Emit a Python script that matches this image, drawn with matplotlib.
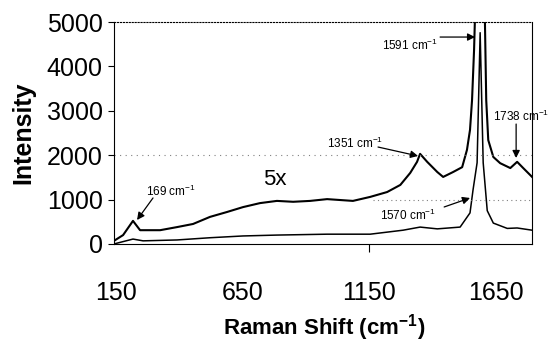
import matplotlib
matplotlib.use("Agg")
import matplotlib.pyplot as plt

plt.rcParams['font.family'] = 'Liberation Sans'
plt.rcParams['mathtext.fontset'] = 'custom'
plt.rcParams['mathtext.rm'] = 'Liberation Sans'

# upper trace (5x)
x_5x = [142, 178, 217, 245, 324, 391, 454, 521, 588, 651, 718, 785, 849, 916, 983,
        1034, 1085, 1153, 1220, 1272, 1311, 1338, 1350, 1378, 1418, 1441, 1480,
        1516, 1535, 1547, 1555, 1563, 1571, 1587, 1603, 1611, 1619, 1639, 1666,
        1706, 1733, 1757, 1792]
y_5x = [70, 200, 520, 310, 310, 380, 450, 610, 720, 830, 920, 970, 950, 970, 1010,
        990, 970, 1060, 1170, 1330, 1600, 1850, 2030, 1850, 1620, 1510, 1620,
        1730, 2120, 2570, 3240, 4370, 6000, 12000, 6000, 3240, 2340, 1960, 1820,
        1710, 1850, 1710, 1510]

# lower trace (1x)
x_1x = [142, 217, 257, 391, 521, 651, 785, 983, 1153, 1283, 1350, 1418, 1508,
        1547, 1559, 1575, 1587, 1599, 1615, 1639, 1694, 1733, 1792]
y_1x = [0, 110, 70, 90, 140, 180, 200, 220, 220, 310, 380, 340, 380,
        700, 1220, 1830, 4760, 1830, 750, 470, 350, 360, 310]

xticks = [150, 650, 1150, 1650]
yticks = [0, 1000, 2000, 3000, 4000, 5000]

fig = plt.figure(figsize=(5.56, 3.5), dpi=100)
ax = fig.add_axes([0.205, 0.303, 0.752, 0.634])

ax.plot(x_5x, y_5x, color='black', lw=1.5)
ax.plot(x_1x, y_1x, color='black', lw=1.1)

ax.axhline(2000, color='gray', lw=0.8, ls=(0, (1, 4)))
ax.axhline(1000, xmin=0.62, color='gray', lw=0.8, ls=(0, (1, 3)))

ax.set_xlim(142, 1792)
ax.set_ylim(0, 5000)
ax.set_xticks(xticks)
ax.set_yticks(yticks)
ax.tick_params(axis='x', direction='out', length=6, pad=21, labelsize=18)
ax.tick_params(axis='y', direction='out', length=4, pad=4, labelsize=18)
for i, t in enumerate(ax.xaxis.get_major_ticks()):
    t.tick1line.set_visible(i == 2)
ax.spines['top'].set_linestyle(':')
ax.spines['top'].set_color('black')

fig.text(23 / 556, 1 - 133 / 350, 'Intensity', rotation=90, fontsize=18,
         fontweight='bold', ha='center', va='center')
fig.text(324 / 556, 1 - 328 / 350, r'Raman Shift (cm$^{\mathregular{-1}}$)',
         fontsize=16, fontweight='bold', ha='center', va='center')

# peak labels
lab = dict(fontsize=8.5, ha='center', va='center')
ax.text(367, 1194, r'169 cm$^{\mathregular{-1}}$', **lab)
ax.text(1093, 2275, r'1351 cm$^{\mathregular{-1}}$', **lab)
ax.text(1310, 4480, r'1591 cm$^{\mathregular{-1}}$', **lab)
ax.text(1748, 2880, r'1738 cm$^{\mathregular{-1}}$', **lab)
ax.text(1303, 653, r'1570 cm$^{\mathregular{-1}}$', **lab)
ax.text(778, 1441, '5x', fontsize=16, ha='center', va='center')

arr = dict(arrowstyle='-|>', color='black', lw=0.9, mutation_scale=11,
           shrinkA=0, shrinkB=0)
ax.annotate('', xy=(233, 540), xytext=(296, 1036), arrowprops=arr)
ax.annotate('', xy=(1342, 1982), xytext=(1184, 2184), arrowprops=arr)
ax.annotate('', xy=(1567, 4662), xytext=(1429, 4662), arrowprops=arr)
ax.annotate('', xy=(1729, 1937), xytext=(1729, 2702), arrowprops=arr)
ax.annotate('', xy=(1547, 1036), xytext=(1445, 833), arrowprops=arr)

fig.savefig('out.png', dpi=100)
